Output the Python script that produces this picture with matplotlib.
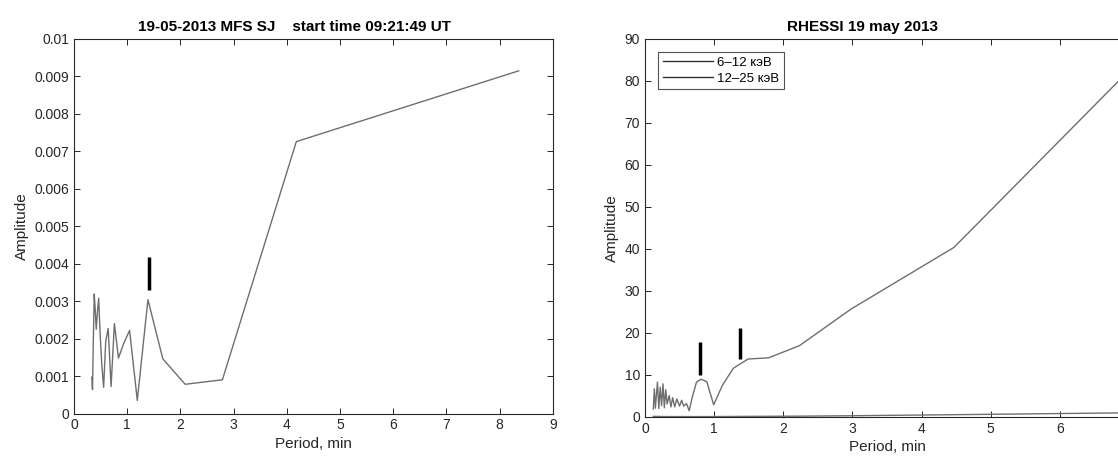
import numpy as np
import matplotlib
matplotlib.use("Agg")
import matplotlib.pyplot as plt

plt.rcParams['font.family'] = ['Liberation Sans', 'DejaVu Sans']

# MFS SJ spectrum (left panel)
mfs_period = [0.334, 0.348, 0.363, 0.38, 0.398, 0.418, 0.44, 0.464, 0.492, 0.5225,
              0.557, 0.597, 0.643, 0.697, 0.76, 0.836, 0.929, 1.045, 1.19, 1.39,
              1.67, 2.09, 2.79, 4.18, 8.36]
mfs_amp = [0.00097, 0.00064, 0.0019, 0.00319, 0.0028, 0.00225, 0.0027, 0.00308, 0.0021, 0.0013,
           0.0007, 0.00194, 0.00227, 0.00072, 0.0024, 0.00148, 0.00185, 0.00222, 0.00035, 0.00304,
           0.00146, 0.00078, 0.0009, 0.00726, 0.00915]
mfs_mark_x = 1.41
mfs_mark_y = (0.00329, 0.00418)

# RHESSI spectra (right panel)
rh_period_lo = [0.12, 0.135, 0.15, 0.18, 0.2, 0.22, 0.24, 0.26, 0.28, 0.30,
                0.32, 0.35, 0.375, 0.40, 0.43, 0.46, 0.50, 0.53, 0.56, 0.60,
                0.639, 0.688, 0.745, 0.813, 0.894, 0.993, 1.118, 1.277, 1.49, 1.79,
                2.235, 2.98, 4.47, 7.0]
rh_amp_lo = [1.9, 6.7, 2.1, 8.3, 2.0, 7.1, 2.7, 7.9, 2.2, 6.5,
             3.1, 5.1, 2.4, 4.6, 2.4, 4.3, 2.6, 4.0, 2.6, 3.2,
             1.5, 5.0, 8.3, 9.0, 8.4, 2.9, 7.5, 11.6, 13.8, 14.1,
             17.0, 25.7, 40.4, 82.5]
rh_period_hi = [0.12, 0.3, 0.6, 1.0, 1.5, 2.235, 2.98, 4.47, 7.0]
rh_amp_hi = [0.15, 0.1, 0.1, 0.1, 0.15, 0.2, 0.3, 0.55, 1.0]
rh_mark_x = [0.80, 1.37]
rh_mark_lo = [9.9, 13.7]
rh_mark_hi = [17.8, 21.2]
rh_xticklabels = ['0', '1', '2', '3', '4', '5', '6', '']  # "7" falls off the cropped edge

line_col = '#6e6e6e'
axis_col = '#262626'


def matlab_axes(ax):
    for s in ax.spines.values():
        s.set_color(axis_col)
        s.set_linewidth(0.8)
    ax.tick_params(direction='in', top=True, right=True, length=4,
                   width=0.7, color=axis_col, labelsize=10, labelcolor=axis_col)


fig = plt.figure(figsize=(11.18, 4.63), dpi=100)

# left panel
ax1 = fig.add_axes([74 / 1118, (463 - 413.5) / 463, 478.7 / 1118, 374.5 / 463])
ax1.plot(mfs_period, mfs_amp, color=line_col, linewidth=1.0)
ax1.vlines(mfs_mark_x, mfs_mark_y[0], mfs_mark_y[1], color='black', linewidth=2.5)
ax1.set_xlim(0, 9)
ax1.set_ylim(0, 0.01)
ax1.set_xticks(np.arange(0, 10, 1))
ax1.set_yticks(np.arange(0, 0.0101, 0.001))
ax1.set_yticklabels(['0', '0.001', '0.002', '0.003', '0.004', '0.005',
                     '0.006', '0.007', '0.008', '0.009', '0.01'])
ax1.set_xlabel('Period, min', fontsize=11, color=axis_col, labelpad=3)
ax1.set_ylabel('Amplitude', fontsize=11, color=axis_col, labelpad=4)
ax1.set_title('19-05-2013 MFS SJ    start time 09:21:49 UT',
              fontsize=11, fontweight='bold', pad=6, x=0.46)
matlab_axes(ax1)

# right panel (runs past the figure edge, as in the reference crop)
ax2 = fig.add_axes([645 / 1118, (463 - 417) / 463, 484 / 1118, 378 / 463])
ax2.plot(rh_period_lo, rh_amp_lo, color=line_col, linewidth=1.0, label='6–12 кэВ')
ax2.plot(rh_period_hi, rh_amp_hi, color=line_col, linewidth=1.0, label='12–25 кэВ')
ax2.vlines(rh_mark_x, rh_mark_lo, rh_mark_hi, color='black', linewidth=2.5)
ax2.set_xlim(0, 7)
ax2.set_ylim(0, 90)
ax2.set_xticks(np.arange(0, 8, 1))
ax2.set_xticklabels(rh_xticklabels)
ax2.set_yticks(np.arange(0, 91, 10))
ax2.set_xlabel('Period, min', fontsize=11, color=axis_col, labelpad=3)
ax2.set_ylabel('Amplitude', fontsize=11, color=axis_col, labelpad=4)
ax2.set_title('RHESSI 19 may 2013', fontsize=11, fontweight='bold', pad=6, x=0.45)
matlab_axes(ax2)
leg = ax2.legend(loc='upper left', fontsize=9.5, frameon=True, fancybox=False,
                 handlelength=3.8, handletextpad=0.3, borderpad=0.35,
                 labelspacing=0.25, borderaxespad=1.0)
leg.get_frame().set_edgecolor(axis_col)
leg.get_frame().set_linewidth(0.8)
for h in leg.get_lines():
    h.set_color('#333333')

fig.savefig('out.png', dpi=100)
